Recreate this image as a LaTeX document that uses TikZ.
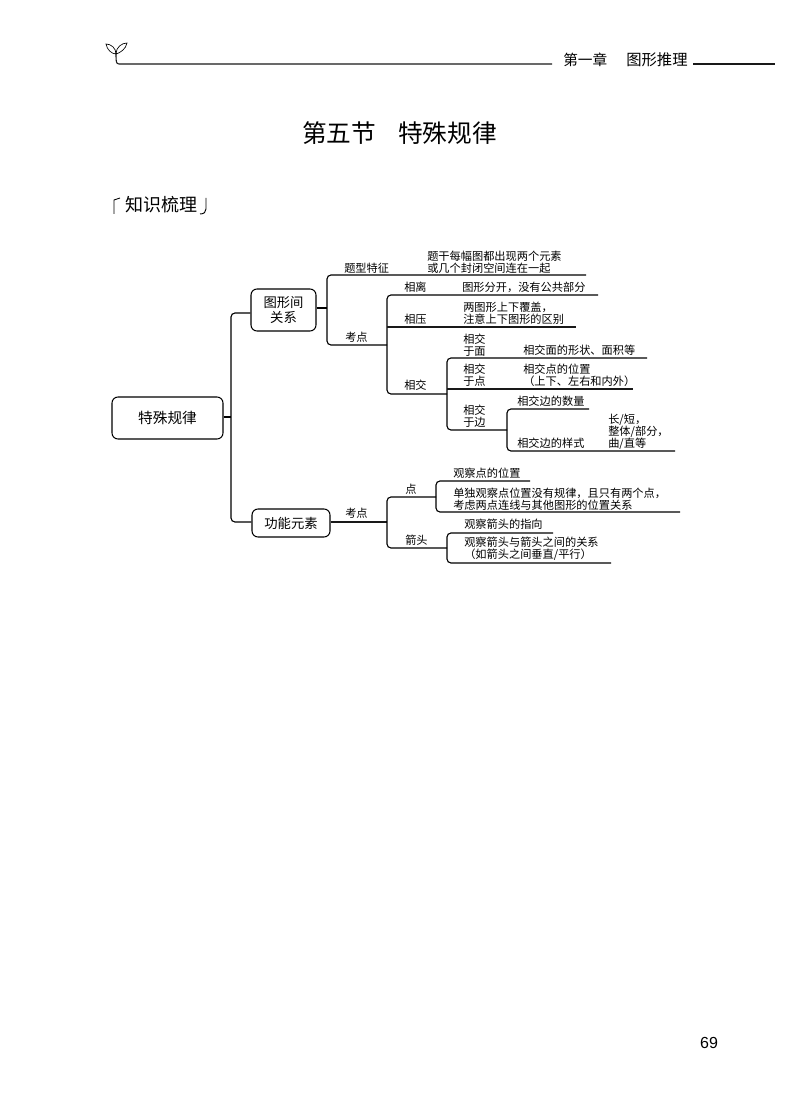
\documentclass[tikz,border=0pt]{standalone}
\usepackage{fontspec}
\setmainfont{Noto Sans CJK SC}
\newfontfamily\numfont{Liberation Sans}
\newcommand{\fs}[1]{\fontsize{#1}{#1}\selectfont}
\tikzset{
  x=0.75pt,y=-0.75pt,
  conn/.style={draw=black,line width=0.85pt,rounded corners=3pt},
  rule/.style={draw=black!90,line width=0.8pt},
  bx/.style={draw=black,line width=0.8pt,rounded corners=4.5pt,inner sep=0pt,align=center},
  lbl/.style={inner sep=0pt,anchor=west,align=left,font=\fontsize{8.4}{8.8}\selectfont,text=black},
}
\begin{document}
\begin{tikzpicture}
\useasboundingbox (0,0) rectangle (800,1094);
\fill[white] (0,0) rectangle (800,1094);
% header
\coordinate (hA) at (119,64); \coordinate (hB) at (552,64);
\coordinate (hC) at (693,64); \coordinate (hD) at (775,64);
\coordinate (sp) at (116,54);
\draw[rule] (sp) .. controls (116,61) and (116,64) .. (hA) -- (hB);
\draw[rule] (hC) -- (hD);
\draw[line width=0.5pt,black] (sp) .. controls (112,54) and (107,50) .. (106,44) .. controls (111,44) and (116,48) .. (sp)
  .. controls (120,53) and (126,49) .. (127,43) .. controls (122,43) and (116,47) .. (sp);
\node[inner sep=0pt,anchor=west,font=\fs{11}] (chap) at (563,60) {第一章};
\node[inner sep=0pt,anchor=west,font=\fs{11.5}] (chapb) at (626,60) {图形推理};
\node[inner sep=0pt,font=\fs{18.5}] (title) at (399.5,133) {第五节\hspace{0.9em}特殊规律};
\node[inner sep=0pt,anchor=west,font=\fs{13.5}] (kn) at (125,205) {知识梳理};
\draw[line width=0.7pt] (120,198) -- (114,200) -- (114,214);
\draw[line width=0.7pt] (206,198) -- (206,209) .. controls (206,212) and (204,214) .. (200,214);
\node[inner sep=0pt,font=\numfont\fs{12}] (pg) at (709,1043) {69};

% boxes
\node[bx,minimum width=83.25pt,minimum height=31.5pt,font=\fs{11}] (root) at (167.5,418) {特殊规律};
\node[bx,minimum width=48.75pt,minimum height=31.5pt,font=\fontsize{10}{11}\selectfont] (g) at (283.5,310) {图形间\\关系};
\node[bx,minimum width=58.5pt,minimum height=21pt,font=\fs{10}] (f) at (291,523) {功能元素};
\coordinate (tr) at (231,417);
\draw[conn] (root.east |- tr) -- (tr);
\draw[conn] (g.west |- 0,313) -- (231,313) -- (231,522) -- (f.west |- 0,522);

% upper branch
\coordinate (j1) at (327,308);
\coordinate (tzE) at (586,275);
\coordinate (kdE) at (387,345);
\draw[conn] (g.east |- j1) -- (j1);
\draw[conn] (tzE) -- (327,275) -- (327,345) -- (kdE);
\coordinate (lE) at (598,295);
\coordinate (yE) at (576,327);
\coordinate (xE) at (447,394);
\draw[conn] (lE) -- (387,295) -- (387,394) -- (xE);
\draw[rule] (387,327) -- (yE);
\coordinate (mE) at (647,358);
\coordinate (pE) at (633,389);
\coordinate (bE) at (507,430);
\draw[conn] (mE) -- (447,358) -- (447,430) -- (bE);
\draw[rule] (447,389) -- (pE);
\coordinate (nE) at (589,409);
\coordinate (sE) at (675,451);
\draw[conn] (nE) -- (507,409) -- (507,451) -- (sE);

% lower branch
\coordinate (j2) at (387,522);
\draw[rule] (f.east |- j2) -- (j2);
\coordinate (dE) at (436,497);
\coordinate (aE) at (447,548);
\draw[conn] (dE) -- (387,497) -- (387,548) -- (aE);
\coordinate (d1) at (530,481);
\coordinate (d2) at (680,512);
\draw[conn] (d1) -- (436,481) -- (436,512) -- (d2);
\coordinate (a1) at (553,533);
\coordinate (a2) at (611,563);
\draw[conn] (a1) -- (447,533) -- (447,563) -- (a2);

% labels
\node[lbl] (t1) at (344,268) {题型特征};
\node[lbl] (t2) at (427,262) {题干每幅图都出现两个元素\\或几个封闭空间连在一起};
\node[lbl] (t3) at (345,337) {考点};
\node[lbl] (t4) at (404,287) {相离};
\node[lbl] (t5) at (462,287) {图形分开，没有公共部分};
\node[lbl] (t6) at (463,313) {两图形上下覆盖，\\注意上下图形的区别};
\node[lbl] (t7) at (404,319) {相压};
\node[lbl] (t8) at (404,385) {相交};
\node[lbl] (t9) at (463,345) {相交\\于面};
\node[lbl] (t10) at (523,350) {相交面的形状、面积等};
\node[lbl] (t11) at (463,375) {相交\\于点};
\node[lbl] (t12) at (523,375) {相交点的位置\\（上下、左右和内外）};
\node[lbl] (t13) at (463,416) {相交\\于边};
\node[lbl] (t14) at (517,401) {相交边的数量};
\node[lbl] (t15) at (517,443) {相交边的样式};
\node[lbl] (t16) at (608,432) {长/短，\\整体/部分，\\曲/直等};
\node[lbl] (t17) at (345,513) {考点};
\node[lbl] (t18) at (405,489) {点};
\node[lbl] (t19) at (453,473) {观察点的位置};
\node[lbl] (t20) at (453,499) {单独观察点位置没有规律，且只有两个点，\\考虑两点连线与其他图形的位置关系};
\node[lbl] (t21) at (405,540) {箭头};
\node[lbl] (t22) at (464,524) {观察箭头的指向};
\node[lbl] (t23) at (464,549) {观察箭头与箭头之间的关系\\（如箭头之间垂直/平行）};
\end{tikzpicture}
\end{document}
